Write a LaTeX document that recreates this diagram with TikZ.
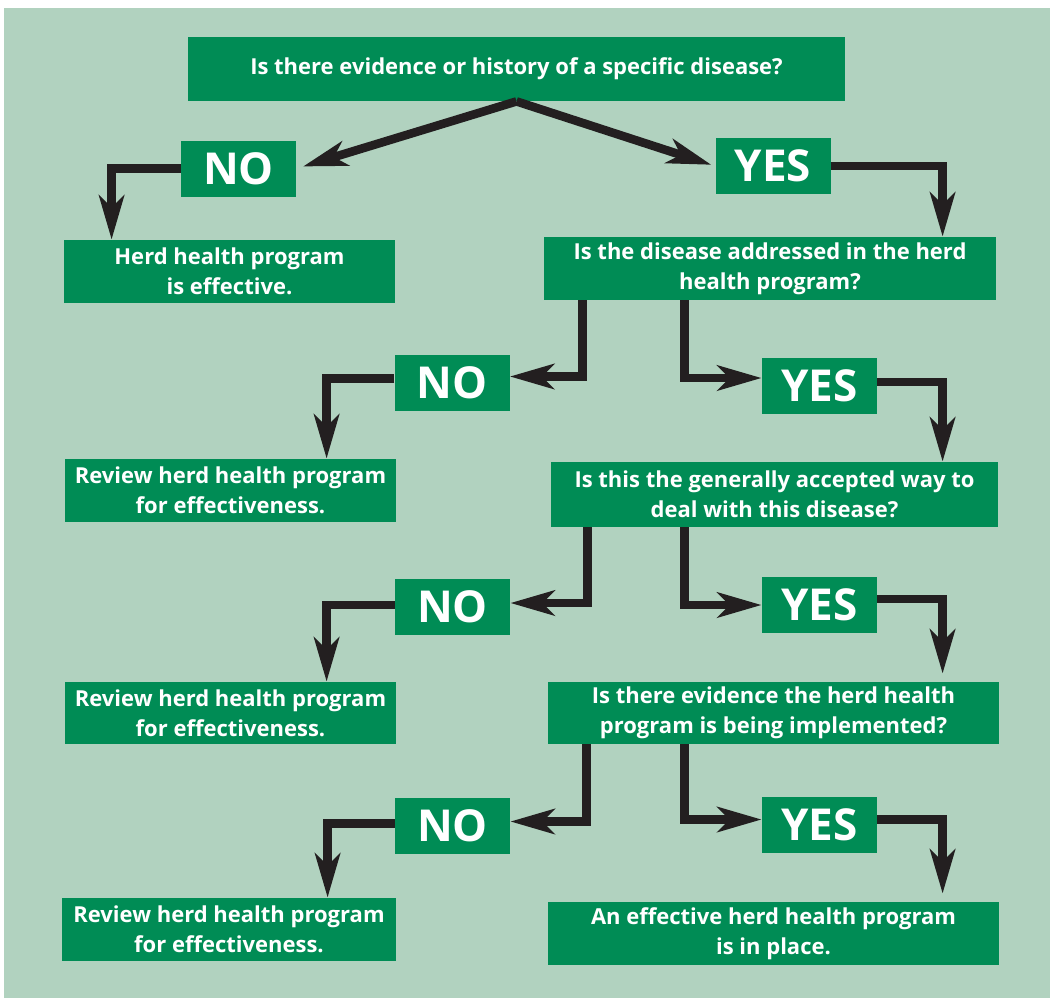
\documentclass[tikz,border=0pt]{standalone}
\usepackage{fontspec}
\setmainfont{Open Sans}
\usetikzlibrary{arrows.meta,calc}
\definecolor{herdgreen}{HTML}{008C55}
\definecolor{paleback}{HTML}{B1D2BF}
\definecolor{inkblack}{HTML}{231F20}
\tikzset{
	qbox/.style={rectangle, fill=herdgreen, text=white, font=\bfseries\fontsize{11}{15}\selectfont, align=center, inner sep=0pt},
	ansbox/.style={rectangle, fill=herdgreen, text=white, font=\bfseries\fontsize{22}{24}\selectfont, minimum width=57.5pt, minimum height=28pt, inner sep=0pt},
	flow/.style={-{Stealth[length=22pt, width=12.5pt, inset=6pt]}, line width=4.3pt, color=inkblack},
}
\begin{document}
\begin{tikzpicture}[x=0.5pt, y=-0.5pt]

		\useasboundingbox (0,0) rectangle (1050,998);
		\fill[paleback] (4,8) rectangle (1050,998);

		\node[qbox, minimum width=328.5pt, minimum height=32pt](q1) at (516.5,69){Is there evidence or history of a specific disease?};

		\node[ansbox](no1) at (238.5,168.5){NO};
		\node[ansbox](yes1) at (773,166){YES};
		\node[qbox, minimum width=165.5pt, minimum height=31.5pt](effective) at (229.5,271.5){Herd health program\\is effective.};
		\node[qbox, minimum width=226pt, minimum height=31.5pt](q2) at (770,268.5){Is the disease addressed in the herd\\health program?};

		\node[ansbox](no2) at (452,382.5){NO};
		\node[ansbox](yes2) at (819.5,386){YES};
		\node[qbox, minimum width=165.5pt, minimum height=31.5pt](review1) at (230.5,490.5){Review herd health program\\for effectiveness.};
		\node[qbox, minimum width=223.5pt, minimum height=32.5pt](q3) at (774.5,494.5){Is this the generally accepted way to\\deal with this disease?};

		\node[ansbox](no3) at (452.5,607){NO};
		\node[ansbox](yes3) at (819.5,605){YES};
		\node[qbox, minimum width=165.5pt, minimum height=31pt](review2) at (230.5,713){Review herd health program\\for effectiveness.};
		\node[qbox, minimum width=225.5pt, minimum height=31pt](q4) at (773.5,713){Is there evidence the herd health\\program is being implemented?};

		\node[ansbox](no4) at (452.5,825.5){NO};
		\node[ansbox](yes4) at (819.5,824.5){YES};
		\node[qbox, minimum width=167pt, minimum height=31.5pt](review3) at (229,929.5){Review herd health program\\for effectiveness.};
		\node[qbox, minimum width=225.5pt, minimum height=31.5pt](final) at (773.5,933.5){An effective herd health program\\is in place.};

		\draw[flow, shorten >=3.5pt] (q1.south) -- (no1.east);
		\draw[flow, shorten >=2pt] (q1.south) -- (yes1.west);
		\draw[flow] (no1.west) -| ($(effective.north west)+(48,0)$);
		\draw[flow] (yes1.east) -| ($(q2.north west)+(399,0)$);

		\draw[flow] ($(q2.south west)+(39,0)$) |- ([yshift=3pt]no2.east);
		\draw[flow] ($(q2.south west)+(141,0)$) |- ([yshift=4pt]yes2.west);
		\draw[flow] ([yshift=2pt]no2.west) -| ($(review1.north west)+(262,0)$);
		\draw[flow] ([yshift=2pt]yes2.east) -| ($(q3.north west)+(392,0)$);

		\draw[flow] ($(q3.south west)+(37,0)$) |- ([yshift=2pt]no3.east);
		\draw[flow] ($(q3.south west)+(134,0)$) |- (yes3.west);
		\draw[flow] ([yshift=1pt]no3.west) -| ($(review2.north west)+(262,0)$);
		\draw[flow, shorten >=4pt] ([yshift=3pt]yes3.east) -| ($(q4.north west)+(395,0)$);

		\draw[flow] ($(q4.south west)+(39,0)$) |- ([yshift=2pt]no4.east);
		\draw[flow] ($(q4.south west)+(137,0)$) |- ([yshift=2.5pt]yes4.west);
		\draw[flow] ([yshift=1pt]no4.west) -| ($(review3.north west)+(266,0)$);
		\draw[flow, shorten >=4pt] ([yshift=2.5pt]yes4.east) -| ($(final.north west)+(395,0)$);

	\end{tikzpicture}
\end{document}
